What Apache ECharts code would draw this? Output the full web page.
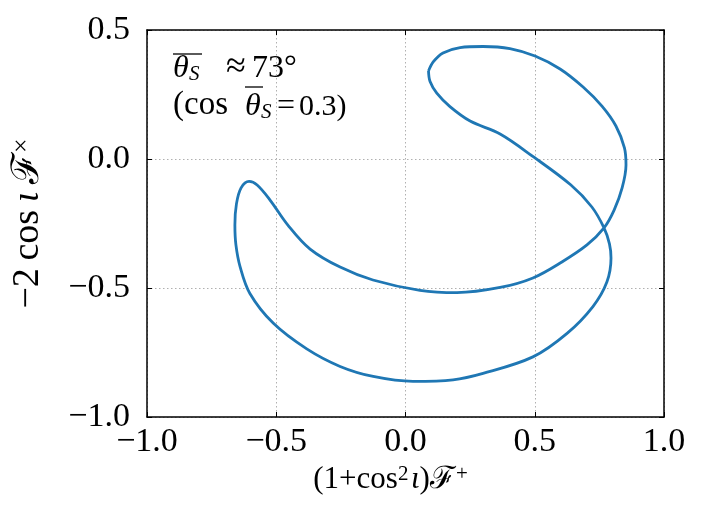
<!DOCTYPE html>
<html>
<head>
<meta charset="utf-8">
<script src="https://cdn.jsdelivr.net/npm/echarts@6/dist/echarts.min.js"></script>
<style>
  html, body { margin: 0; padding: 0; background: #fff; }
  #main { width: 706px; height: 530px; }
</style>
</head>
<body>
<div id="main"></div>
<script>
// curve, in order along the path
var curveX = [0.089, 0.108, 0.145, 0.211, 0.300, 0.404, 0.501, 0.598, 0.687, 0.760,
  0.814, 0.847, 0.853, 0.838, 0.807, 0.768, 0.702, 0.605, 0.493, 0.366,
  0.199, 0.056, -0.126, -0.253, -0.369, -0.455, -0.524, -0.574, -0.605,
  -0.636, -0.654, -0.660, -0.656, -0.640, -0.602, -0.511, -0.382, -0.253, -0.125,
  0.029, 0.184, 0.300, 0.493, 0.625, 0.725, 0.779, 0.795, 0.789, 0.768,
  0.721, 0.640, 0.494, 0.366, 0.250, 0.172, 0.121, 0.095, 0.089];
var curveY = [0.341, 0.377, 0.411, 0.432, 0.436, 0.428, 0.399, 0.349, 0.279, 0.205,
  0.128, 0.043, -0.023, -0.112, -0.198, -0.267, -0.333, -0.399, -0.461, -0.498,
  -0.518, -0.509, -0.469, -0.419, -0.349, -0.256, -0.159, -0.101, -0.087,
  -0.112, -0.174, -0.256, -0.333, -0.417, -0.521, -0.637, -0.736, -0.804, -0.843,
  -0.862, -0.856, -0.831, -0.767, -0.676, -0.572, -0.477, -0.384, -0.329, -0.267,
  -0.186, -0.101, 0.009, 0.097, 0.147, 0.203, 0.255, 0.300, 0.341];
var xTicks = [-1.0, -0.5, 0.0, 0.5, 1.0];
var yTicks = [-1.0, -0.5, 0.0, 0.5];

var serif = '"Liberation Serif", "DejaVu Serif", serif';
var fmt = function (v) { return (v < 0 ? '\u2212' : '') + Math.abs(v).toFixed(1); };

var pts = curveX.map(function (x, i) { return [x, curveY[i]]; });

var tickStyle = { show: true, inside: true, length: 5, lineStyle: { color: '#000', width: 1 } };
var lineStyle = { show: true, onZero: false, lineStyle: { color: '#000', width: 1.5 } };
var gridLine = { show: true, lineStyle: { color: '#b0b0b0', type: [1.5, 2.5], width: 1 } };
function richName(size) {
  return {
    t: { fontFamily: serif, fontSize: size, color: '#000' },
    i: { fontFamily: serif, fontSize: size, fontStyle: 'italic', color: '#000' },
    s: { fontFamily: serif, fontSize: Math.round(size * 0.68), color: '#000', verticalAlign: 'top' }
  };
}

// annotation pieces, placed by baseline
function txt(str, x, base, size, italic) {
  return {
    type: 'text', x: x, y: base - 0.34 * size, silent: true,
    style: { text: str, fontFamily: serif, fontSize: size, fontStyle: italic ? 'italic' : 'normal',
      fill: '#000', align: 'left', verticalAlign: 'middle' }
  };
}
function bar(x1, x2, y) {
  return { type: 'line', silent: true, shape: { x1: x1, y1: y, x2: x2, y2: y }, style: { stroke: '#000', lineWidth: 1.3 } };
}

var chart = echarts.init(document.getElementById('main'));
chart.setOption({
  animation: false,
  grid: { left: 147, right: 42, top: 30, bottom: 113, outerBoundsMode: 'none', containLabel: false },
  xAxis: [{
    type: 'value', min: xTicks[0], max: xTicks[xTicks.length - 1], interval: 0.5,
    axisLine: lineStyle, axisTick: tickStyle, splitLine: gridLine,
    axisLabel: { formatter: fmt, color: '#000', fontFamily: serif, fontSize: 34, margin: 8 },
    name: '{t|(1+cos}{s|2}{i|\u200aι}{t|)ℱ}{s|+}',
    nameLocation: 'middle', nameGap: 40,
    nameTextStyle: { rich: richName(31), padding: [0, 30, 0, 0] }
  }, {
    type: 'value', position: 'top', min: xTicks[0], max: xTicks[xTicks.length - 1], interval: 0.5,
    axisLine: lineStyle, axisTick: tickStyle, axisLabel: { show: false }, splitLine: { show: false }
  }],
  yAxis: [{
    type: 'value', min: yTicks[0], max: yTicks[yTicks.length - 1], interval: 0.5,
    axisLine: lineStyle, axisTick: tickStyle, splitLine: gridLine,
    axisLabel: { formatter: fmt, color: '#000', fontFamily: serif, fontSize: 34, margin: 17 },
    name: '{t|\u22122\u2009cos}{i|\u2009ι\u2009}{t|ℱ}{s|×}',
    nameLocation: 'middle', nameGap: 100, nameRotate: 90, nameTextStyle: { rich: richName(38) }
  }, {
    type: 'value', position: 'right', min: yTicks[0], max: yTicks[yTicks.length - 1], interval: 0.5,
    axisLine: lineStyle, axisTick: tickStyle, axisLabel: { show: false }, splitLine: { show: false }
  }],
  graphic: [
    txt('θ', 173, 79, 32, true), txt('S', 189, 82, 21, true),
    txt('≈', 226, 80, 36, false), txt('73°', 252, 79, 32, false),
    bar(173, 202, 54),
    txt('(cos', 173, 117, 33, false), txt('θ', 245, 117, 32, true), txt('S', 261, 120, 21, true),
    txt('=', 277, 117, 32, false), txt('0.3)', 299, 117, 30, false),
    bar(245, 263, 87)
  ],
  series: [{
    type: 'line', data: pts, showSymbol: false, smooth: 0.35,
    lineStyle: { color: '#1f77b4', width: 2.8 }
  }]
});
</script>
</body>
</html>
